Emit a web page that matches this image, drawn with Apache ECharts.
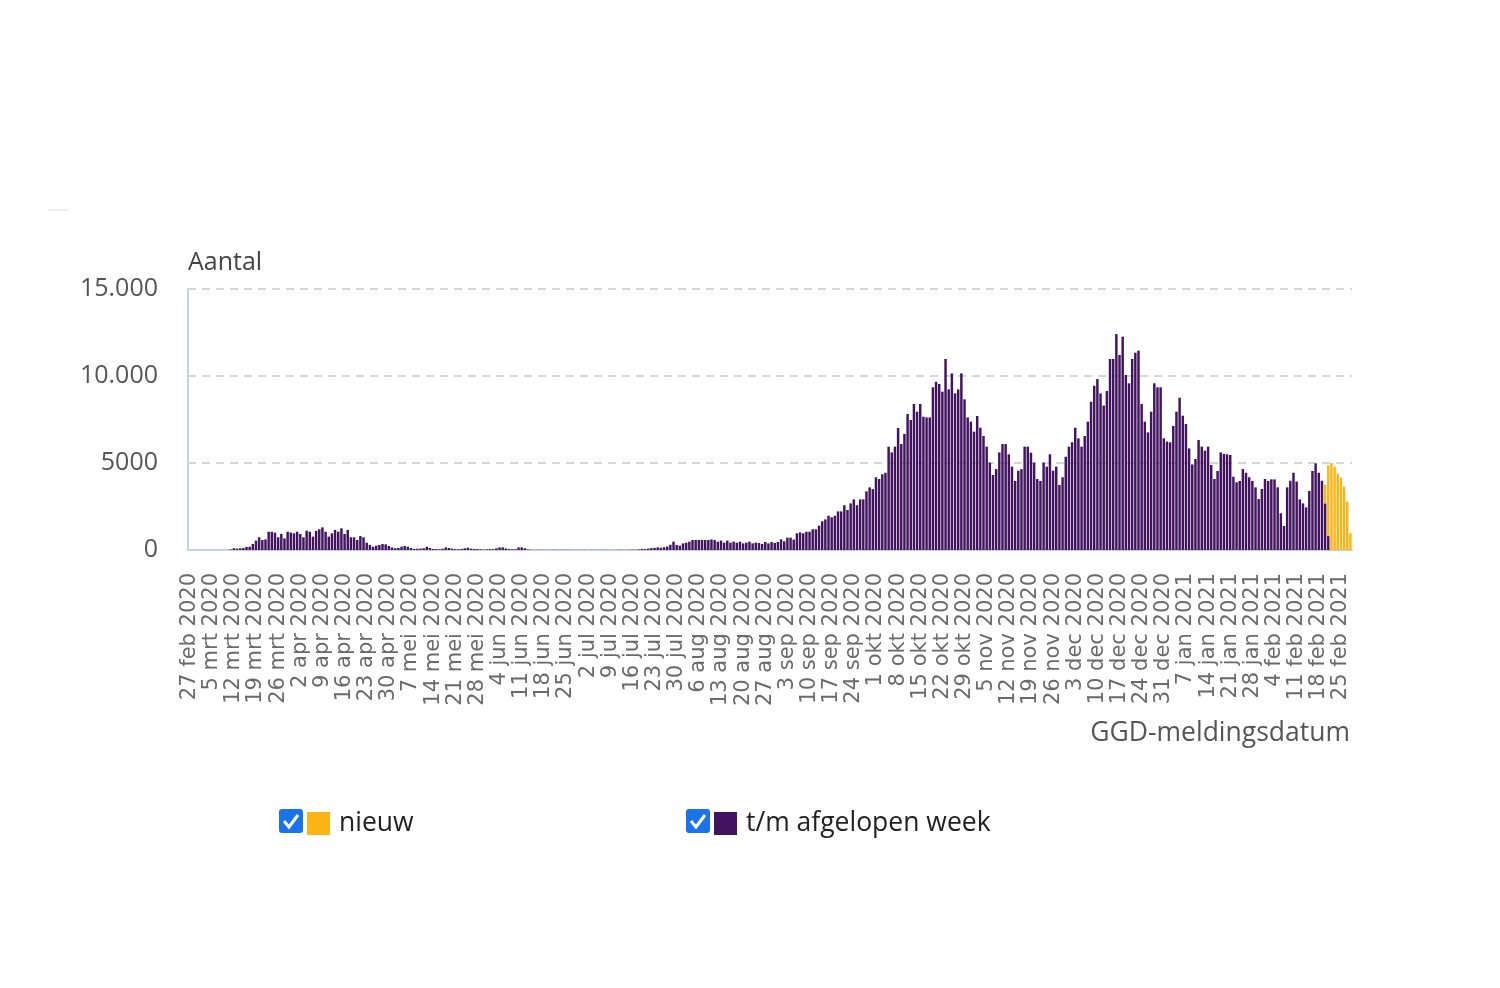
<!DOCTYPE html>
<html><head><meta charset="utf-8">
<script src="https://cdn.jsdelivr.net/npm/echarts@6/dist/echarts.min.js"></script>
<style>html,body{margin:0;padding:0;background:#fff;}#c{width:1500px;height:988px;}</style>
</head><body><div id="c"></div>
<script>
// ---- data ----
const startYear = 2020, startMonth = 1, startDay = 27; // 27 feb 2020
const dayCount = 368;
const monthNames = ['jan','feb','mrt','apr','mei','jun','jul','aug','sep','okt','nov','dec'];

const afgelopenWeek = [
0,0,0,0,0,0,0,0,0,0,0,0,0,
30,100,80,100,110,180,190,345,
540,730,575,610,1050,1050,1000,730,920,670,
1050,1000,960,1050,920,730,1110,1050,770,1100,
1190,1300,1050,770,960,1150,1050,1245,920,1150,
730,730,575,800,730,420,290,190,250,290,
345,325,230,150,100,115,190,230,190,115,
60,75,80,100,190,115,60,50,40,75,
150,115,75,50,40,60,100,135,80,60,
50,40,30,40,50,45,100,150,150,90,
50,40,45,150,150,100,30,15,10,10,
15,10,10,10,15,10,10,10,15,10,
10,5,10,10,10,5,10,10,10,10,
10,10,5,10,10,15,10,10,15,20,
20,30,60,50,80,110,120,150,130,160,
200,300,480,290,250,380,420,480,575,575,
575,575,575,575,610,575,480,540,420,540,
420,480,420,480,380,420,480,380,420,400,
350,460,380,460,400,460,610,500,710,710,
600,960,1015,960,1050,1050,1190,1190,1400,1650,
1760,1970,1880,1970,2220,2220,2570,2300,2680,2910,
2570,2910,2910,3370,3600,3500,4180,4080,4350,4440,
5940,5610,5940,7010,6090,6670,7820,7470,8390,7950,
8390,7660,7620,7620,9350,9670,9540,9100,10980,9230,
10150,9000,9230,10150,8660,7620,7375,6800,7700,7030,
6550,5940,5020,4310,4650,5610,6090,6090,5500,4790,
3970,4560,4650,5940,5940,5590,5020,4080,3970,5020,
4790,5500,4560,4790,3740,4180,5360,5940,6190,7030,
6420,5940,6550,7375,8520,9440,9830,9000,8300,9140,
10980,10980,12410,11210,12260,10060,9580,10980,11340,11460,
8390,7375,6760,7950,9580,9350,9350,6420,6230,6190,
7130,7950,8750,7720,7240,5840,4920,5230,6320,5940,
5710,5940,4890,4080,4540,5610,5520,5500,5460,4210,
3890,3970,4650,4440,4180,3970,3600,2930,3510,4080,
3970,4060,4060,3600,2110,1380,3600,3980,4440,3930,
2910,2680,2450,3390,4540,4980,4440,3980,2680,800,
0,0,0,0,0,0,0
];
const nieuwStartIndex = 359;
const nieuwValues = [1070,4060,5000,4790,4400,4150,3640,2780,960];

const yTicks = [0, 5000, 10000, 15000];
const yTickLabels = ['0', '5000', '10.000', '15.000'];

// ---- build ----
const categories = [];
for (let i = 0; i < dayCount; i++) {
  const d = new Date(Date.UTC(startYear, startMonth, startDay + i));
  categories.push(d.getUTCDate() + ' ' + monthNames[d.getUTCMonth()] + ' ' + d.getUTCFullYear());
}
const nieuwFull = categories.map((c, i) => {
  const k = i - nieuwStartIndex;
  return (k >= 0 && k < nieuwValues.length) ? nieuwValues[k] : 0;
});

const axisBlue = '#c4d3e4';
const chart = echarts.init(document.getElementById('c'), null, {renderer: 'canvas'});
chart.setOption({
  animation: false,
  backgroundColor: '#fff',
  grid: {left: 188, right: 148, top: 289, bottom: 438, containLabel: false},
  xAxis: {
    type: 'category', data: categories, boundaryGap: true,
    axisLine: {lineStyle: {color: axisBlue, width: 2}},
    axisTick: {alignWithLabel: true, interval: 6, length: 6, lineStyle: {color: axisBlue, width: 2}},
    axisLabel: {interval: 6, rotate: 90, margin: 23, fontFamily: 'DejaVu Sans', fontSize: 21, color: '#6a6a6a'},
    splitLine: {show: false}
  },
  yAxis: {
    type: 'value', min: 0, max: 15000, interval: 5000,
    name: 'Aantal', nameLocation: 'end', nameGap: 14,
    nameTextStyle: {align: 'left', fontFamily: 'Open Sans', fontSize: 25, color: '#444'},
    axisLine: {show: true, lineStyle: {color: axisBlue, width: 2}},
    axisTick: {show: false},
    axisLabel: {margin: 30, fontFamily: 'Open Sans', fontSize: 25, color: '#555',
      formatter: v => { const k = yTicks.indexOf(v); return k >= 0 ? yTickLabels[k] : ''; }},
    splitLine: {lineStyle: {type: [8, 6], color: '#c9c9c9', width: 1.5}}
  },
  legend: [
    {data: ['nieuw'], left: 307, top: 810, padding: 0, icon: 'rect', itemWidth: 23, itemHeight: 23,
     textStyle: {fontFamily: 'Open Sans', fontSize: 26.5, color: '#222', padding: [0, 0, 0, 4]}},
    {data: ['t/m afgelopen week'], left: 714, top: 810, padding: 0, icon: 'rect', itemWidth: 23, itemHeight: 23,
     textStyle: {fontFamily: 'Open Sans', fontSize: 26.5, color: '#222', padding: [0, 0, 0, 4]}}
  ],
  graphic: [
    {type: 'rect', left: 48, top: 209, shape: {width: 20, height: 2}, style: {fill: '#eeeeee'}},
    {type: 'group', left: 279, top: 809, children: [
      {type: 'rect', shape: {x: 0, y: 0, width: 24, height: 24, r: 3}, style: {fill: '#1a73e8'}},
      {type: 'polyline', shape: {points: [[5, 12], [10, 18], [19, 6]]}, style: {stroke: '#fff', lineWidth: 3, fill: null}}
    ]},
    {type: 'group', left: 686, top: 809, children: [
      {type: 'rect', shape: {x: 0, y: 0, width: 24, height: 24, r: 3}, style: {fill: '#1a73e8'}},
      {type: 'polyline', shape: {points: [[5, 12], [10, 18], [19, 6]]}, style: {stroke: '#fff', lineWidth: 3, fill: null}}
    ]},
    {type: 'text', right: 150, top: 720, style: {text: 'GGD-meldingsdatum', fontFamily: 'Open Sans', fontSize: 26.5, fill: '#555'}}
  ],
  series: [
    {name: 't/m afgelopen week', type: 'bar', stack: 'totaal', data: afgelopenWeek,
     itemStyle: {color: '#42145f'}, barCategoryGap: '22%'},
    {name: 'nieuw', type: 'bar', stack: 'totaal', data: nieuwFull,
     itemStyle: {color: '#fdb515'}, barCategoryGap: '22%'}
  ]
});
</script></body></html>
